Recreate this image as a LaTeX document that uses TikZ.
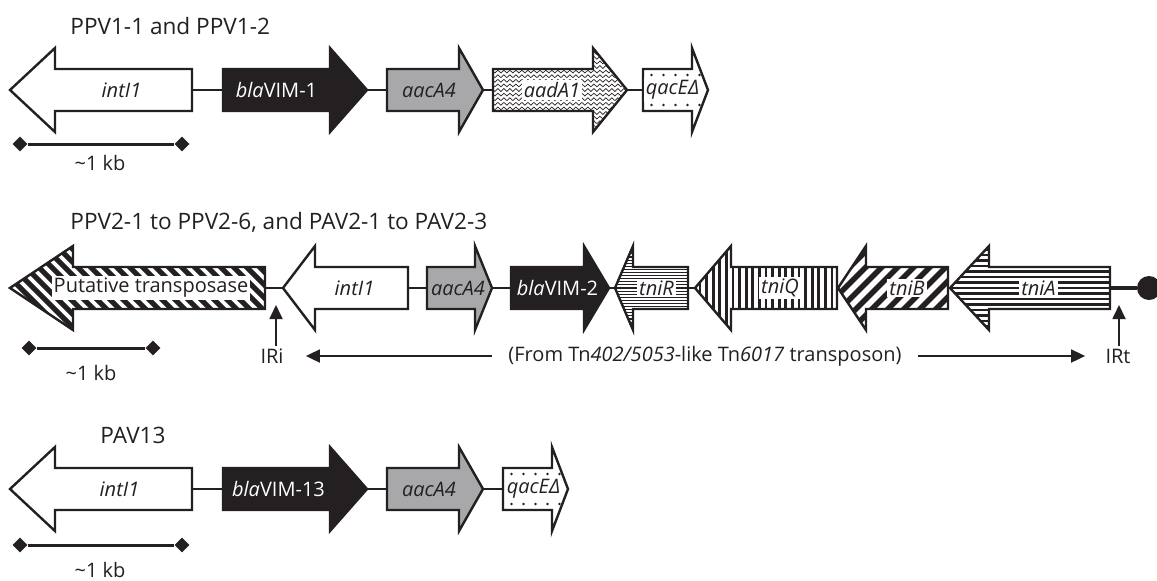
\documentclass[tikz,border=0pt]{standalone}
\usepackage{fontspec}
\setmainfont{Open Sans}
\usetikzlibrary{arrows.meta,calc,decorations.pathmorphing,shapes.geometric}
\definecolor{inkblack}{rgb}{0.14,0.12,0.13}
\definecolor{genegray}{rgb}{0.66,0.66,0.67}
\newcommand{\genesize}{\fontsize{10}{12}\selectfont}
\newcommand{\titlesize}{\fontsize{11.3}{13}\selectfont}
% gene arrow: style, label style, name, tail x, head x, tip x, y, label
\newcommand{\gene}[8]{%
  \path[#1] (#4,#7-21) -- (#5,#7-21) -- (#5,#7-42) -- (#6,#7) -- (#5,#7+42) -- (#5,#7+21) -- (#4,#7+21) -- cycle;
  \coordinate (#3-tail) at (#4,#7);
  \coordinate (#3-tip) at (#6,#7);
  \node[#2] (#3) at ({(#4+#5)/2},#7) {#8};
}
\tikzset{
  gene/.style={draw=inkblack, line width=1.2pt, fill=white},
  graygene/.style={gene, fill=genegray},
  blackgene/.style={gene, fill=inkblack},
  backslash/.style={gene, path picture={
      \foreach \i in {-30,...,30}
        \draw[inkblack, line width=2.5pt] ($(path picture bounding box.center)+(\i*13-100,-100)$) -- ++(200,200);}},
  slash/.style={gene, path picture={
      \foreach \i in {-20,...,20}
        \draw[inkblack, line width=2.8pt] ($(path picture bounding box.center)+(\i*16-100,100)$) -- ++(200,-200);}},
  hlines/.style 2 args={gene, path picture={
      \foreach \j in {-16,...,16}
        \draw[inkblack, line width=#1] ($(path picture bounding box.center)+(-120,\j*#2)$) -- ++(240,0);}},
  vlines/.style 2 args={gene, path picture={
      \foreach \i in {-25,...,25}
        \draw[inkblack, line width=#1] ($(path picture bounding box.center)+(\i*#2,-60)$) -- ++(0,120);}},
  wavy/.style={gene, path picture={
      \foreach \j in {-10,...,10}
        \draw[inkblack, line width=0.35pt, decorate, decoration={snake, amplitude=0.7pt, segment length=3pt}]
          ($(path picture bounding box.center)+(-70,\j*4.6)$) -- ++(140,0);}},
  speckled/.style={gene, path picture={
      \foreach \i in {-4,...,4}
        \foreach \j in {-3,...,3}
          \fill[inkblack] ($(path picture bounding box.center)+(\i*12,\j*15)$) circle (0.65pt);}},
  lab/.style={inner sep=1pt, font=\genesize\itshape, text=inkblack},
  boxlab/.style={lab, fill=white},
  blalab/.style={lab, font=\genesize\upshape, text=white},
  plaintext/.style={inner sep=1pt, text=inkblack},
  heading/.style={plaintext, anchor=west, font=\titlesize},
  link/.style={draw=inkblack, line width=0.9pt},
  tick/.style={diamond, fill=inkblack, inner sep=0pt, minimum width=7.5pt, minimum height=7.5pt},
  bar/.style={draw=inkblack, line width=1.5pt},
  pointer/.style={draw=inkblack, line width=0.9pt, -{Triangle[length=7pt,width=6.5pt]}},
  ball/.style={circle, fill=inkblack, inner sep=0pt, minimum size=12pt}
}
\begin{document}
\begin{tikzpicture}[x=0.5pt,y=-0.5pt,font=\genesize]
\useasboundingbox (0,0) rectangle (1157,580);
% PPV1
\node[heading] (title1) at (68,26) {PPV1-1 and PPV1-2};
\gene{gene}{lab,xshift=-1pt}{intA}{192}{55}{10}{90}{intI1}
\gene{blackgene}{blalab}{vimA}{223}{330}{367}{90}{\textit{bla}VIM-1}
\gene{graygene}{lab,xshift=3pt}{aacA}{387}{459}{483}{90}{aacA4}
\gene{wavy}{boxlab,xshift=4.5pt}{aadA}{493}{593}{627}{90}{aadA1}
\gene{speckled}{boxlab,xshift=2.5pt}{qacA}{643}{692}{708}{90}{qacEΔ}
\draw[link] (intA-tail) -- (vimA-tail);
\draw[link] (vimA-tip) -- (aacA-tail);
\draw[link] (aacA-tip) -- (aadA-tail);
\draw[link] (aadA-tip) -- (qacA-tail);
\node[tick] (barA1) at (20,144) {};
\node[tick] (barA2) at (182,144) {};
\draw[bar] (barA1) -- (barA2);
\node[plaintext] (kbA) at (100,163) {\textasciitilde1 kb};
% PPV2 / PAV2
\node[heading] (title2) at (68,222) {PPV2-1 to PPV2-6, and PAV2-1 to PAV2-3};
\gene{backslash}{boxlab,font=\genesize\upshape,xshift=-9pt}{trans}{265}{73}{10}{288}{Putative transposase}
\gene{gene}{lab,xshift=-3.5pt}{intB}{408}{315}{283}{288}{intI1}
\gene{graygene}{lab,xshift=3.5pt}{aacB}{427}{475}{492}{288}{aacA4}
\gene{blackgene}{blalab,xshift=5pt}{vimB}{511}{584}{609}{288}{\textit{bla}VIM-2}
\gene{hlines={0.55pt}{3.1}}{boxlab,xshift=-2pt}{tniR}{688}{633}{615}{288}{tniR}
\gene{vlines={1.4pt}{6.6}}{boxlab,xshift=-2pt}{tniQ}{837}{731}{695}{288}{tniQ}
\gene{slash}{boxlab}{tniB}{948}{866}{838}{288}{tniB}
\gene{hlines={1.1pt}{5.5}}{boxlab,xshift=-5.5pt}{tniA}{1110}{989}{950}{288}{tniA}
\draw[link] (trans-tail) -- (intB-tip);
\draw[link] (intB-tail) -- (aacB-tail);
\draw[link] (aacB-tip) -- (vimB-tail);
\draw[link] (vimB-tip) -- (tniR-tip);
\draw[link] (tniR-tail) -- (tniQ-tip);
\draw[link] (tniQ-tail) -- (tniB-tip);
\draw[link] (tniB-tail) -- (tniA-tip);
\node[ball] (irend) at (1149,288) {};
\draw[inkblack, line width=1.7pt] (tniA-tail) -- (irend);
\node[plaintext] (iri) at (272,356) {IRi};
\coordinate (irihead) at (276,305);
\draw[pointer] (iri.north -| irihead) -- (irihead);
\node[plaintext] (irt) at (1118,356) {IRt};
\coordinate (irthead) at (1119,305);
\draw[pointer] (irt.north -| irthead) -- (irthead);
\node[plaintext] (origin) at (705,356) {(From Tn\textit{402/5053}-like Tn\textit{6017} transposon)};
\draw[pointer] ([xshift=-7pt]origin.west) -- ([xshift=10pt]iri.east);
\draw[pointer] ([xshift=7pt]origin.east) -- ([xshift=-9pt]irt.west);
\node[tick] (barB1) at (29,348) {};
\node[tick] (barB2) at (153,348) {};
\draw[bar] (barB1) -- (barB2);
\node[plaintext] (kbB) at (91,373) {\textasciitilde1 kb};
% PAV13
\node[heading] (title3) at (98,435) {PAV13};
\gene{gene}{lab,xshift=-2pt}{intC}{192}{55}{10}{489}{intI1}
\gene{blackgene}{blalab,xshift=1pt}{vimC}{223}{330}{367}{489}{\textit{bla}VIM-13}
\gene{graygene}{lab,xshift=3pt}{aacC}{387}{459}{483}{489}{aacA4}
\gene{speckled}{boxlab,xshift=3pt}{qacC}{503}{552}{568}{489}{qacEΔ}
\draw[link] (intC-tail) -- (vimC-tail);
\draw[link] (vimC-tip) -- (aacC-tail);
\draw[link] (aacC-tip) -- (qacC-tail);
\node[tick] (barC1) at (20,545) {};
\node[tick] (barC2) at (182,545) {};
\draw[bar] (barC1) -- (barC2);
\node[plaintext] (kbC) at (100,570) {\textasciitilde1 kb};
\end{tikzpicture}
\end{document}
